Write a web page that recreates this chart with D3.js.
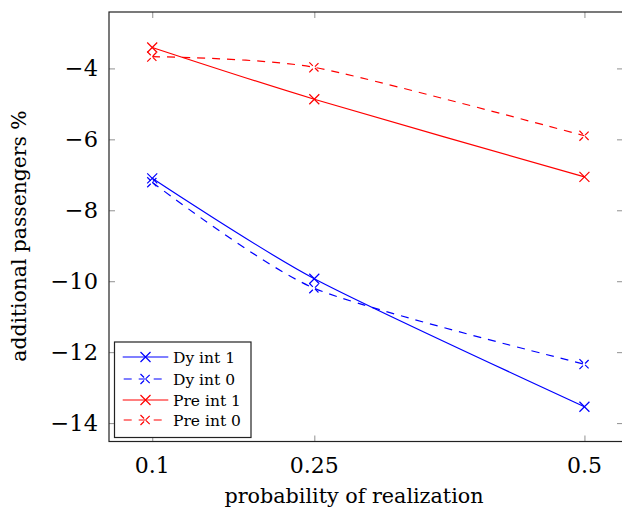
<!DOCTYPE html>
<html>
<head>
<meta charset="utf-8">
<script src="https://cdn.jsdelivr.net/npm/d3@7"></script>
<style>
  html, body { margin: 0; padding: 0; background: #fff; }
  svg { display: block; }
</style>
</head>
<body>
<svg id="chart" width="622" height="510"></svg>
<script>
// ---- data ----
const xValues = [0.1, 0.25, 0.5];
const xTickValues = [0.1, 0.25, 0.5];
const xTickLabels = ["0.1", "0.25", "0.5"];
const yTickValues = [-14, -12, -10, -8, -6, -4];
const yTickLabels = ["\u221214", "\u221212", "\u221210", "\u22128", "\u22126", "\u22124"];

const seriesNames = ["Dy int 1", "Dy int 0", "Pre int 1", "Pre int 0"];
const dyInt1 = [-7.10, -9.93, -13.54];
const dyInt0 = [-7.21, -10.20, -12.34];
const preInt1 = [-3.41, -4.87, -7.06];
const preInt0 = [-3.67, -3.97, -5.90];
const seriesValues = [dyInt1, dyInt0, preInt1, preInt0];
const seriesColors = ["#0000ff", "#0000ff", "#ff0000", "#ff0000"];
const seriesDashed = [false, true, false, true];

const xLabel = "probability of realization";
const yLabel = "additional passengers %";

(function () {
const FONT = "DejaVu Serif";
const pL = 109, pR = 623, pT = 12, pB = 441.5;
const xDomain = [0.06, 0.5357];
const yDomain = [-14.52, -2.41];

const svg = d3.select("#chart").attr("font-family", FONT);
const x = d3.scaleLinear().domain(xDomain).range([pL, pR]);
const y = d3.scaleLinear().domain(yDomain).range([pB, pT]);

const tickLen = 6;
const tickColor = "#9a9a9a";

const axB = d3.axisBottom(x).tickValues(xTickValues).tickSize(-tickLen).tickFormat("");
const axT = d3.axisTop(x).tickValues(xTickValues).tickSize(-tickLen).tickFormat("");
const axL = d3.axisLeft(y).tickValues(yTickValues).tickSize(-tickLen).tickFormat("");
const axR = d3.axisRight(y).tickValues(yTickValues).tickSize(-tickLen).tickFormat("");
[[axB, `translate(0,${pB})`], [axT, `translate(0,${pT})`],
 [axL, `translate(${pL},0)`], [axR, `translate(${pR},0)`]].forEach(([ax, tr]) => {
  const g = svg.append("g").attr("transform", tr).call(ax);
  g.select(".domain").remove();
  g.selectAll(".tick line").attr("stroke", tickColor).attr("stroke-width", 1.1);
});

svg.append("g").selectAll("text").data(xTickValues).join("text")
  .attr("font-family", FONT)
  .attr("x", d => x(d)).attr("y", pB + 31)
  .attr("text-anchor", "middle").attr("font-size", 22)
  .text((d, i) => xTickLabels[i]);
svg.append("g").selectAll("text").data(yTickValues).join("text")
  .attr("font-family", FONT)
  .attr("x", pL - 11).attr("y", d => y(d) + 8)
  .attr("text-anchor", "end").attr("font-size", 22.5)
  .text((d, i) => yTickLabels[i]);

svg.append("text").attr("font-family", FONT).attr("x", 354).attr("y", 503)
  .attr("text-anchor", "middle").attr("font-size", 20.7).text(xLabel);
svg.append("text").attr("font-family", FONT)
  .attr("transform", `translate(26,236) rotate(-90)`)
  .attr("text-anchor", "middle").attr("font-size", 20.3).text(yLabel);

const dash = "8,7";
const line = d3.line().x((d, i) => x(xValues[i])).y(d => y(d)).curve(d3.curveCardinal.tension(0.3));
const ms = 5;
const markPath = `M${-ms},${-ms}L${ms},${ms}M${-ms},${ms}L${ms},${-ms}`;

seriesValues.forEach((vals, si) => {
  svg.append("path").datum(vals)
    .attr("d", line).attr("fill", "none")
    .attr("stroke", seriesColors[si]).attr("stroke-width", 1.2)
    .attr("stroke-dasharray", seriesDashed[si] ? dash : null);
  svg.append("g").selectAll("path").data(vals).join("path")
    .attr("transform", (d, i) => `translate(${x(xValues[i])},${y(d)})`)
    .attr("d", markPath).attr("fill", "none")
    .attr("stroke", seriesColors[si]).attr("stroke-width", 1.2)
    .attr("stroke-dasharray", seriesDashed[si] ? "5,3" : null);
});

svg.append("rect").attr("x", pL).attr("y", pT)
  .attr("width", pR - pL).attr("height", pB - pT)
  .attr("fill", "none").attr("stroke", "#222").attr("stroke-width", 1.2);

const lg = svg.append("g");
lg.append("rect").attr("x", 114.5).attr("y", 342).attr("width", 136.5).attr("height", 95.5)
  .attr("fill", "#fff").attr("stroke", "#222").attr("stroke-width", 1.2);
const rowY = [357, 379, 400, 420];
seriesNames.forEach((name, i) => {
  const yy = rowY[i];
  lg.append("line").attr("x1", 122.7).attr("x2", 168.3).attr("y1", yy).attr("y2", yy)
    .attr("stroke", seriesColors[i]).attr("stroke-width", 1.2)
    .attr("stroke-dasharray", seriesDashed[i] ? dash : null)
    .attr("stroke-dashoffset", seriesDashed[i] ? -1 : null);
  lg.append("path").attr("transform", `translate(145.5,${yy})`)
    .attr("d", markPath).attr("fill", "none")
    .attr("stroke", seriesColors[i]).attr("stroke-width", 1.2)
    .attr("stroke-dasharray", seriesDashed[i] ? "5,3" : null);
  lg.append("text").attr("font-family", FONT).attr("x", 173).attr("y", yy + 6)
    .attr("font-size", 15.5).text(name);
});
})();
</script>
</body>
</html>
